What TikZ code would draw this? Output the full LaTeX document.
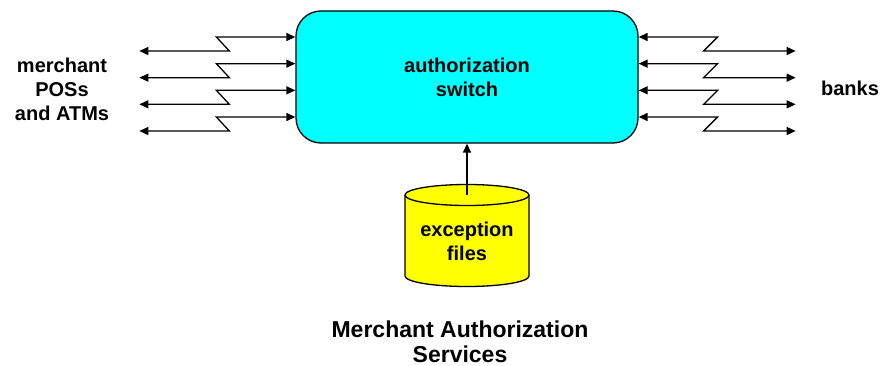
\documentclass[tikz,border=0pt]{standalone}
\usepackage{fontspec}
\setmainfont{Liberation Sans}
\usetikzlibrary{arrows.meta,positioning}
\definecolor{hubcyan}{RGB}{0,255,255}
\definecolor{diskyellow}{RGB}{255,255,0}

\begin{document}
\begin{tikzpicture}[
  x=1pt, y=-1pt,
  hub/.style={draw, rectangle, rounded corners=25pt, fill=hubcyan, minimum width=342pt, minimum height=132pt, line width=1.3pt, align=center, font=\bfseries\fontsize{20}{24}\selectfont},
  lbl/.style={align=center, inner sep=0pt, font=\bfseries\fontsize{20}{24}\selectfont},
  ttl/.style={align=center, inner sep=0pt, font=\bfseries\fontsize{23}{25}\selectfont},
  link/.style={line width=1.3pt, {Triangle[length=9pt,width=8pt]}-{Triangle[length=9pt,width=8pt]}},
  arr/.style={line width=1.3pt, -{Triangle[length=9pt,width=8pt]}},
  cyl/.style={draw, fill=diskyellow, line width=1.3pt}
]
\useasboundingbox (0,0) rectangle (881,366);

\node[hub] (switch) at (467,77) {authorization\\switch};
\node[lbl] (pos) at (62,89) {merchant\\POSs\\and ATMs};
\node[lbl] (banks) at (850,88) {banks};

% lines to the merchants and to the banks
\foreach \k in {40,13.33,-13.33,-40} {
  \draw[link] ([yshift=\k pt]switch.west) -- ++(-79,0) -- ++(13,14) -- ++(-90,0);
  \draw[link] ([yshift=\k pt]switch.east) -- ++(79,0) -- ++(-14,14) -- ++(92,0);
}

% exception files
\coordinate (disk) at (467,195);
\draw[cyl] ([xshift=-62pt]disk) arc[start angle=180, end angle=0, x radius=62pt, y radius=10.5pt] -- ++(0,81) arc[start angle=0, end angle=-180, x radius=62pt, y radius=10.5pt] -- cycle;
\draw[line width=1.3pt] ([xshift=-62pt]disk) arc[start angle=180, end angle=360, x radius=62pt, y radius=10.5pt];
\node[lbl] (files) at (467,241) {exception\\files};
\draw[arr] (disk) -- (switch.south);

\node[ttl] (title) at (460,342) {Merchant Authorization\\Services};
\end{tikzpicture}
\end{document}
